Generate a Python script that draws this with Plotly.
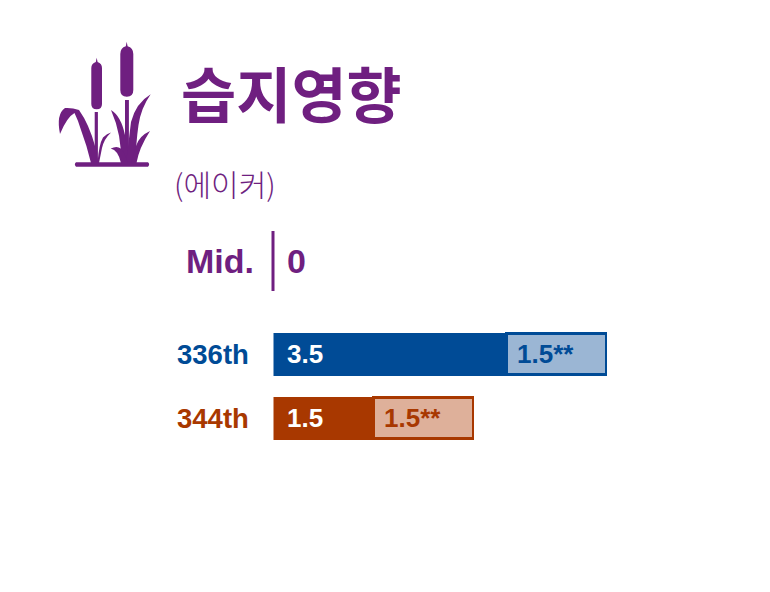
import plotly.graph_objects as go

W, H = 770, 592
PURPLE = "#6f1f80"
BLUE = "#004b96"
BLUE_L = "#9bb6d4"
RUST = "#a83800"
RUST_L = "#deb09a"

title = "습지영향"
subtitle = "(에이커)"
categories = ["336th", "344th"]
base_values = [3.5, 1.5]
extra_values = [1.5, 1.5]
extra_labels = ["1.5**", "1.5**"]
mid_label = "Mid."
mid_value = 0
dark_colors = [BLUE, RUST]
light_colors = [BLUE_L, RUST_L]

# plot area in pixels
PX0, PX1 = 273.5, 742
PY0, PY1 = 322, 450
PX_PER_UNIT = 66.5

fig = go.Figure()
fig.add_bar(
    y=categories, x=base_values, orientation="h",
    marker=dict(color=dark_colors, line=dict(color=dark_colors, width=2)),
    showlegend=False, hoverinfo="skip",
)
fig.add_bar(
    y=categories, x=extra_values, orientation="h",
    marker=dict(color=light_colors, line=dict(color=dark_colors, width=2.5)),
    showlegend=False, hoverinfo="skip",
)

annotations = []
for cat, b, e, lab, dc in zip(categories, base_values, extra_values, extra_labels, dark_colors):
    annotations.append(dict(x=0, y=cat, xref="x", yref="y", text=str(b), showarrow=False,
                            xanchor="left", xshift=11, yshift=0,
                            font=dict(family="Liberation Sans", size=26, color="white", weight="bold")))
    annotations.append(dict(x=b, y=cat, xref="x", yref="y", text=lab, showarrow=False,
                            xanchor="left", xshift=9, yshift=0,
                            font=dict(family="Liberation Sans", size=26, color=dc, weight="bold")))
    annotations.append(dict(x=0, y=cat, xref="x", yref="y", text=cat, showarrow=False,
                            xanchor="right", xshift=-22.5,
                            font=dict(family="Liberation Sans", size=27.5, color=dc, weight="bold")))


def px(x, y, text, size, family="Liberation Sans", weight="bold", anchor="left"):
    return dict(x=x / W, y=1 - y / H, xref="paper", yref="paper", text=text, showarrow=False,
                xanchor=anchor, yanchor="middle", xshift=-3,
                font=dict(family=family, size=size, color=PURPLE, weight=weight))


annotations += [
    px(182, 92, title, 60, "Noto Sans CJK KR"),
    px(175, 183, subtitle, 30, "Noto Sans CJK KR", 300),
    px(186.5, 261, mid_label, 34),
    px(288, 261, str(mid_value), 34),
]

icon_paths = [
    # ground
    "M76,162.3 L148,162.3 Q150.3,164.5 148,166.7 L76,166.7 Q73.7,164.5 76,162.3 Z",
    # left head
    "M96.7,57.7 L97.6,62 Q102,63.5 102,68 L102,104 Q102,109.3 96.7,109.3 Q91.3,109.3 91.3,104 L91.3,68 Q91.3,63.5 95.8,62 Z",
    # right head
    "M126.7,41.7 L127.6,46.3 Q133.3,48 133.3,54 L133.3,90 Q133.3,96.7 126.8,96.7 Q120.3,96.7 120.3,90 L120.3,54 Q120.3,48 125.8,46.3 Z",
    # stems
    "M94.7,112 L97.9,112 L97.9,163 L94.7,163 Z",
    "M125,100 L128.9,100 L128.9,163 L125,163 Z",
    # left big leaf
    "M60,134 Q56,114 65,108 Q72,107.5 79,110 Q89,124 95,146 L98.5,163 L91,163 Q87,146 81,130 Q78,120 74.5,113 Q67,117 60,134 Z",
    # left small leaf
    "M97.5,163 Q99,144 103,137.5 Q107,133.5 111,132.5 Q104,139 102,148 L99,163 Z",
    # right group left leaf
    "M111,110 Q121,116 125,135 L129,163 L121,163 Q122,135 111,110 Z",
    # right big leaf
    "M150.7,94.3 Q136,103 131,122 L126,163 L135.5,163 Q136,142 138.5,125 Q141,108 150.7,94.3 Z",
    # right low leaf
    "M150,131 Q139,136 136,146 L131,163 L136.5,163 Q139,148 150,131 Z",
    # left low leaf
    "M110.7,148.5 Q120,144 124,153 L128,163 L121,163 Q118,150 110.7,148.5 Z",
]

shapes = [
    dict(type="path", path=p, xref="x2", yref="y2", fillcolor=PURPLE, line=dict(width=0), layer="above")
    for p in icon_paths
]
shapes.append(dict(type="line", x0=273, x1=273, y0=231, y1=291, xref="x2", yref="y2",
                   line=dict(color=PURPLE, width=3)))

fig.update_layout(
    width=W, height=H, autosize=False,
    margin=dict(l=0, r=0, t=0, b=0),
    paper_bgcolor="white", plot_bgcolor="rgba(0,0,0,0)",
    barmode="stack", bargap=1 - 41 / 64,
    xaxis=dict(domain=[PX0 / W, PX1 / W], range=[0, (PX1 - PX0) / PX_PER_UNIT], visible=False, fixedrange=True),
    yaxis=dict(domain=[1 - PY1 / H, 1 - PY0 / H], categoryorder="array", categoryarray=categories,
               autorange=False, range=[1.5, -0.5], visible=False, fixedrange=True),
    xaxis2=dict(domain=[0, 1], range=[0, W], visible=False, anchor="y2", fixedrange=True),
    yaxis2=dict(domain=[0, 1], range=[H, 0], visible=False, anchor="x2", fixedrange=True),
    annotations=annotations,
    shapes=shapes,
)

fig.write_html("out.html", config={"displayModeBar": False, "responsive": False},
               post_script="document.body.style.margin='0';")
